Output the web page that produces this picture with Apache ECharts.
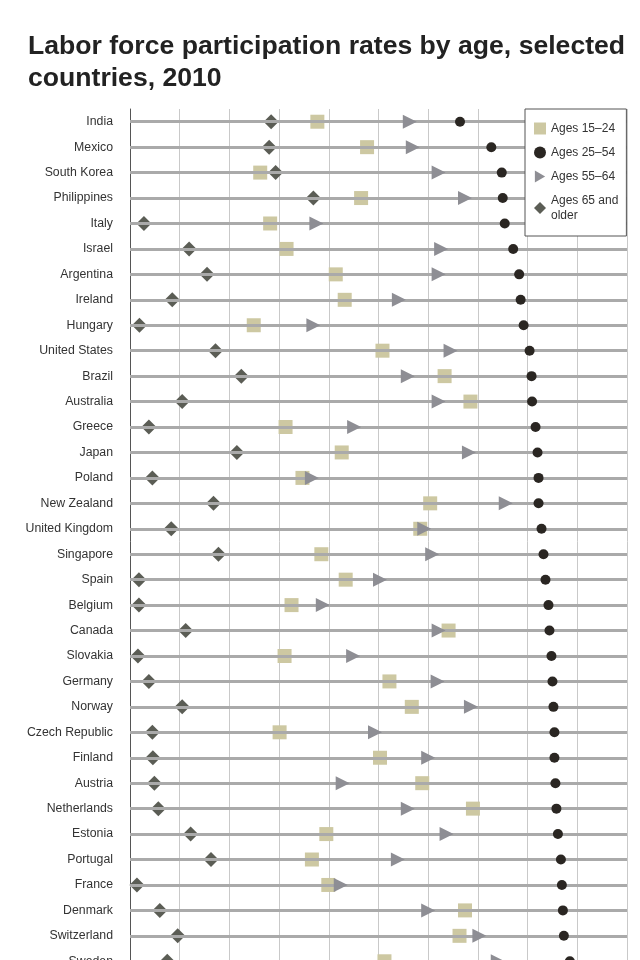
<!DOCTYPE html>
<html>
<head>
<meta charset="utf-8">
<script src="https://cdn.jsdelivr.net/npm/echarts@6/dist/echarts.min.js"></script>
<style>
html,body{margin:0;padding:0;background:#fff;overflow:hidden;}
#chart{width:640px;height:1000px;}
</style>
</head>
<body>
<div id="chart"></div>
<script>
const countries = ['India','Mexico','South Korea','Philippines','Italy','Israel','Argentina','Ireland','Hungary','United States','Brazil','Australia','Greece','Japan','Poland','New Zealand','United Kingdom','Singapore','Spain','Belgium','Canada','Slovakia','Germany','Norway','Czech Republic','Finland','Austria','Netherlands','Estonia','Portugal','France','Denmark','Switzerland','Sweden'];
const ages15to24 = [37.7,47.7,26.2,46.5,28.2,31.5,41.4,43.2,24.9,50.8,63.3,68.5,31.3,42.6,34.7,60.4,58.4,38.5,43.4,32.5,64.1,31.1,52.2,56.7,30.1,50.3,58.8,69.0,39.5,36.6,39.9,67.4,66.3,51.2];
const ages25to54 = [66.4,72.7,74.8,75.0,75.4,77.1,78.3,78.6,79.2,80.4,80.8,80.9,81.6,82.0,82.2,82.2,82.8,83.2,83.6,84.2,84.4,84.8,85.0,85.2,85.4,85.4,85.6,85.8,86.1,86.7,86.9,87.1,87.3,88.5];
const ages55to64 = [56.3,56.9,62.1,67.4,37.5,62.6,62.1,54.1,36.9,64.5,55.9,62.1,45.1,68.2,36.6,75.6,59.2,60.8,50.3,38.8,62.1,44.9,61.9,68.6,49.3,60.0,42.8,55.9,63.7,53.9,42.4,60.0,70.3,74.0];
const ages65plus = [28.4,28.0,29.3,36.9,2.8,11.9,15.5,8.5,1.9,17.2,22.4,10.5,3.8,21.5,4.5,16.8,8.3,17.8,1.8,1.8,11.2,1.6,3.8,10.5,4.5,4.6,4.9,5.7,12.2,16.3,1.4,6.0,9.6,7.5];
const seriesNames = ['Ages 15\u201324','Ages 25\u201354','Ages 55\u201364','Ages 65 and older'];
const xTicks = [0,10,20,30,40,50,60,70,80,90,100];

const FONT = "'Liberation Sans',Arial,sans-serif";
const toPairs = arr => arr.map((v,i)=>[v, countries[i]]);

const chart = echarts.init(document.getElementById('chart'), null, {renderer:'canvas'});
chart.setOption({
  animation:false,
  backgroundColor:'#fff',
  title:{
    text:'Labor force participation rates by age, selected\ncountries, 2010',
    left:23, top:26,
    textStyle:{fontFamily:FONT, fontSize:26.6, fontWeight:'bold', color:'#222', lineHeight:32}
  },
  legend:{
    orient:'vertical', left:525, top:109, z:50,
    padding:[12,8,13,9],
    itemGap:9, itemWidth:12, itemHeight:12,
    backgroundColor:'#fff', borderColor:'#555', borderWidth:1, borderRadius:0,
    data:[
      {name:seriesNames[0], icon:'rect'},
      {name:seriesNames[1], icon:'circle'},
      {name:seriesNames[2], icon:'path://M0,0 L12,7 L0,14 Z'},
      {name:seriesNames[3], icon:'diamond'}
    ],
    formatter: n => n === 'Ages 65 and older' ? 'Ages 65 and\nolder' : n,
    textStyle:{fontFamily:FONT, fontSize:12, color:'#333', lineHeight:15}
  },
  grid:{left:130, top:109, width:497, height:865},
  xAxis:{
    type:'value', min:xTicks[0], max:xTicks[xTicks.length-1], interval:xTicks[1]-xTicks[0],
    axisLabel:{show:false}, axisTick:{show:false}, axisLine:{show:false},
    splitLine:{show:true, lineStyle:{color:'#c9c9c9', width:1}}
  },
  yAxis:{
    type:'category', data:countries, inverse:true,
    axisLine:{show:true, lineStyle:{color:'#555', width:1}},
    axisTick:{show:false},
    axisLabel:{margin:17, fontFamily:FONT, fontSize:12.3, color:'#333'},
    splitLine:{show:false}
  },
  series:[
    {
      name:'rows', type:'scatter', data:[], z:1, silent:true,
      markLine:{
        silent:true, symbol:['none','none'], label:{show:false},
        lineStyle:{color:'#aaaaaa', width:3, type:'solid'},
        data: countries.map(c => ({yAxis:c}))
      }
    },
    {
      name:seriesNames[0], type:'scatter', z:3, symbol:'rect', symbolSize:14,
      itemStyle:{color:'#cdc8a2', opacity:1}, data:toPairs(ages15to24)
    },
    {
      name:seriesNames[3], type:'scatter', z:4, symbol:'diamond', symbolSize:15,
      itemStyle:{color:'#5b5d55', opacity:1}, data:toPairs(ages65plus)
    },
    {
      name:seriesNames[2], type:'scatter', z:5, symbol:'triangle', symbolSize:[14,14], symbolRotate:-90,
      itemStyle:{color:'#8e8e94', opacity:1}, data:toPairs(ages55to64)
    },
    {
      name:seriesNames[1], type:'scatter', z:6, symbol:'circle', symbolSize:10,
      itemStyle:{color:'#2a2622', opacity:1}, data:toPairs(ages25to54)
    }
  ]
});
</script>
</body>
</html>
